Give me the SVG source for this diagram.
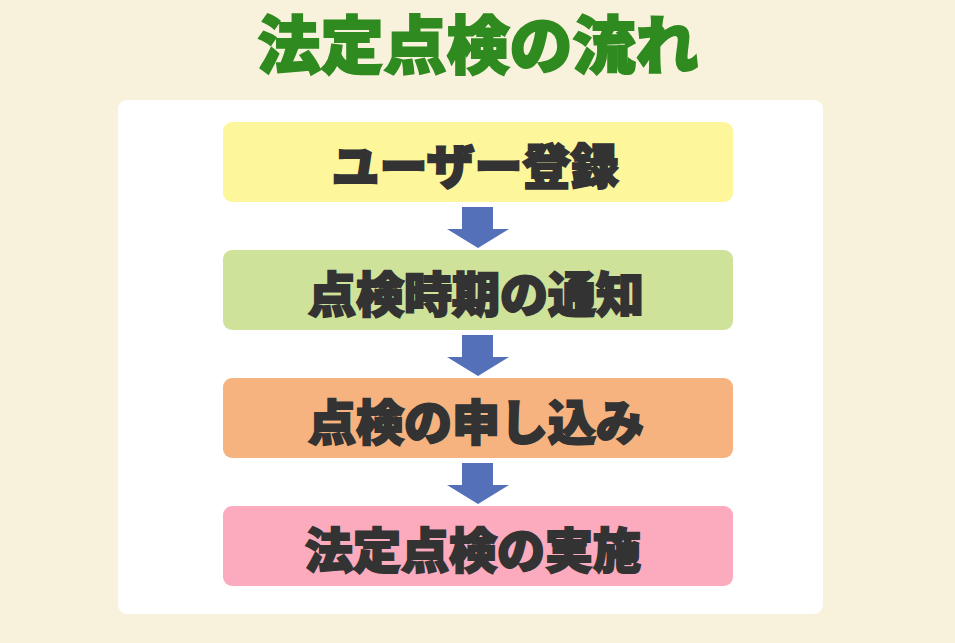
<svg xmlns="http://www.w3.org/2000/svg" width="955" height="643" viewBox="0 0 955 643">
<style>
.t{font-family:"Noto Sans CJK JP","Noto Sans CJK SC",sans-serif;font-weight:900;text-anchor:middle}
.title{fill:#2f8a1f;stroke:#2f8a1f;stroke-width:2;font-size:63px}
.lbl{fill:#333333;stroke:#333333;stroke-width:2;font-size:48px}
.arrow{fill:#5470b8}
</style>
<defs>
<path id="arr" d="M-16,0 H15 V22 H31 L0,41 L-31,22 H-16 Z"/>
</defs>
<rect width="955" height="643" fill="#f8f2dc"/>
<text class="t title" x="478" y="68">法定点検の流れ</text>
<rect x="118" y="100" width="705" height="514" rx="9" fill="#ffffff"/>
<g id="connectors">
<use href="#arr" class="arrow" x="478" y="207"/>
<use href="#arr" class="arrow" x="478" y="335"/>
<use href="#arr" class="arrow" x="478" y="463"/>
</g>
<g id="node1">
<rect x="223" y="122" width="510" height="80" rx="9" fill="#fef69b"/>
<text class="t lbl" x="475" y="184">ユーザー登録</text>
</g>
<g id="node2">
<rect x="223" y="250" width="510" height="80" rx="9" fill="#cfe29a"/>
<text class="t lbl" x="476" y="312">点検時期の通知</text>
</g>
<g id="node3">
<rect x="223" y="378" width="510" height="80" rx="9" fill="#f6b37f"/>
<text class="t lbl" x="476" y="440">点検の申し込み</text>
</g>
<g id="node4">
<rect x="223" y="506" width="510" height="80" rx="9" fill="#fcabbf"/>
<text class="t lbl" x="473" y="568">法定点検の実施</text>
</g>
</svg>
